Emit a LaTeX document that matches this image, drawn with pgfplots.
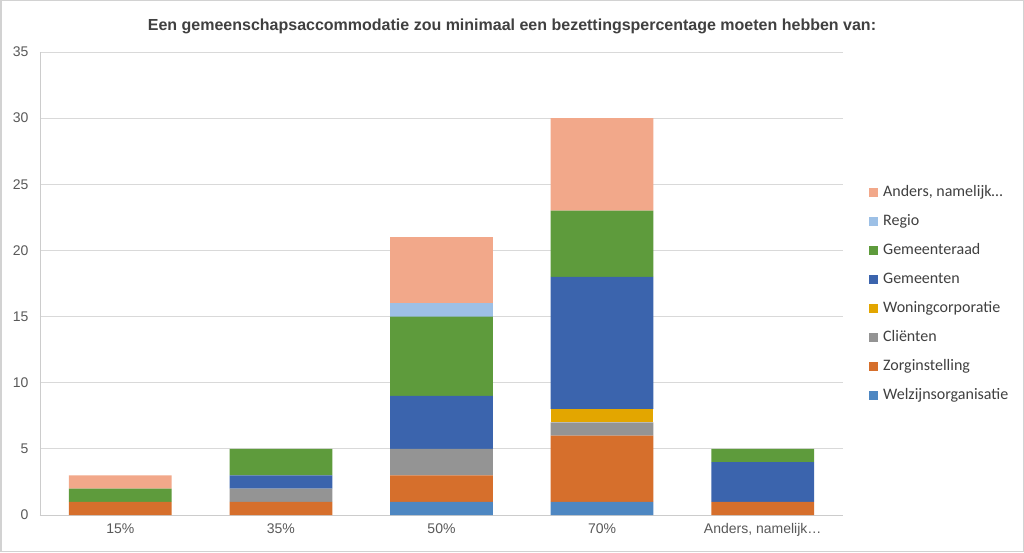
\documentclass[border=0pt]{standalone}
\usepackage{pgfplots}
\pgfplotsset{compat=1.18}
\usepackage{fontspec}
\setmainfont{Liberation Sans}
\newfontfamily\carlito{Carlito}
\definecolor{cWelz}{HTML}{4E87C2}
\definecolor{cZorg}{HTML}{D66F2C}
\definecolor{cClient}{HTML}{949494}
\definecolor{cWoning}{HTML}{E3A600}
\definecolor{cGem}{HTML}{3B64AD}
\definecolor{cRaad}{HTML}{5E9B3C}
\definecolor{cRegio}{HTML}{9DC0E6}
\definecolor{cAnders}{HTML}{F2A88A}
\definecolor{tickc}{HTML}{595959}
\definecolor{titlec}{HTML}{404040}
\begin{document}
\begin{tikzpicture}
\fill[white] (0,0) rectangle (1024pt,552pt);
\draw[gray!35, line width=1.5pt] (0.75pt,0.75pt) rectangle (1023.25pt,551.25pt);
\node[font=\bfseries\fontsize{16}{19}\selectfont, text=titlec] at (512pt,526pt) {Een gemeenschapsaccommodatie zou minimaal een bezettingspercentage moeten hebben van:};
\begin{axis}[
  at={(40pt,37pt)}, anchor=south west,
  scale only axis, width=803pt, height=463pt,
  xmin=-0.5, xmax=4.5, ymin=0, ymax=35,
  ybar stacked, bar width=0.64,
  xtick={0,1,2,3,4},
  xticklabels={15\%,35\%,50\%,70\%,{Anders, namelijk…}},
  ytick={0,5,...,35},
  ymajorgrids, grid style={gray!30, line width=0.8pt},
  axis x line=bottom, axis y line=left,
  axis line style={-, draw=gray!40, line width=0.8pt},
  major tick length=0pt,
  /pgf/number format/assume math mode=true,
  tick label style={font=\fontsize{14}{16}\selectfont, text=tickc},
  xticklabel style={yshift=-5pt},
  yticklabel style={xshift=-8pt},
  legend cell align=left,
  reverse legend,
  legend image code/.code={\fill[#1] (0pt,-4.5pt) rectangle (9pt,4.5pt);},
  legend style={at={(1.0286,0.717)}, anchor=north west, draw=none, fill=none,
    font=\carlito\fontsize{16}{18}\selectfont, text=titlec,
    row sep=14pt, nodes={inner sep=0pt, text height=11pt, text depth=4pt},
    /tikz/every odd column/.append style={column sep=5pt}},
]
\addplot[fill=cWelz, draw=none] coordinates {(0,0) (1,0) (2,1) (3,1) (4,0)};
\addplot[fill=cZorg, draw=none] coordinates {(0,1) (1,1) (2,2) (3,5) (4,1)};
\addplot[fill=cClient, draw=none] coordinates {(0,0) (1,1) (2,2) (3,1) (4,0)};
\addplot[fill=cWoning, draw=none] coordinates {(0,0) (1,0) (2,0) (3,1) (4,0)};
\addplot[fill=cGem, draw=none] coordinates {(0,0) (1,1) (2,4) (3,10) (4,3)};
\addplot[fill=cRaad, draw=none] coordinates {(0,1) (1,2) (2,6) (3,5) (4,1)};
\addplot[fill=cRegio, draw=none] coordinates {(0,0) (1,0) (2,1) (3,0) (4,0)};
\addplot[fill=cAnders, draw=none] coordinates {(0,1) (1,0) (2,5) (3,7) (4,0)};
\legend{Welzijnsorganisatie,Zorginstelling,Cliënten,Woningcorporatie,Gemeenten,Gemeenteraad,Regio,{Anders, namelijk…}}
\end{axis}
\end{tikzpicture}
\end{document}
